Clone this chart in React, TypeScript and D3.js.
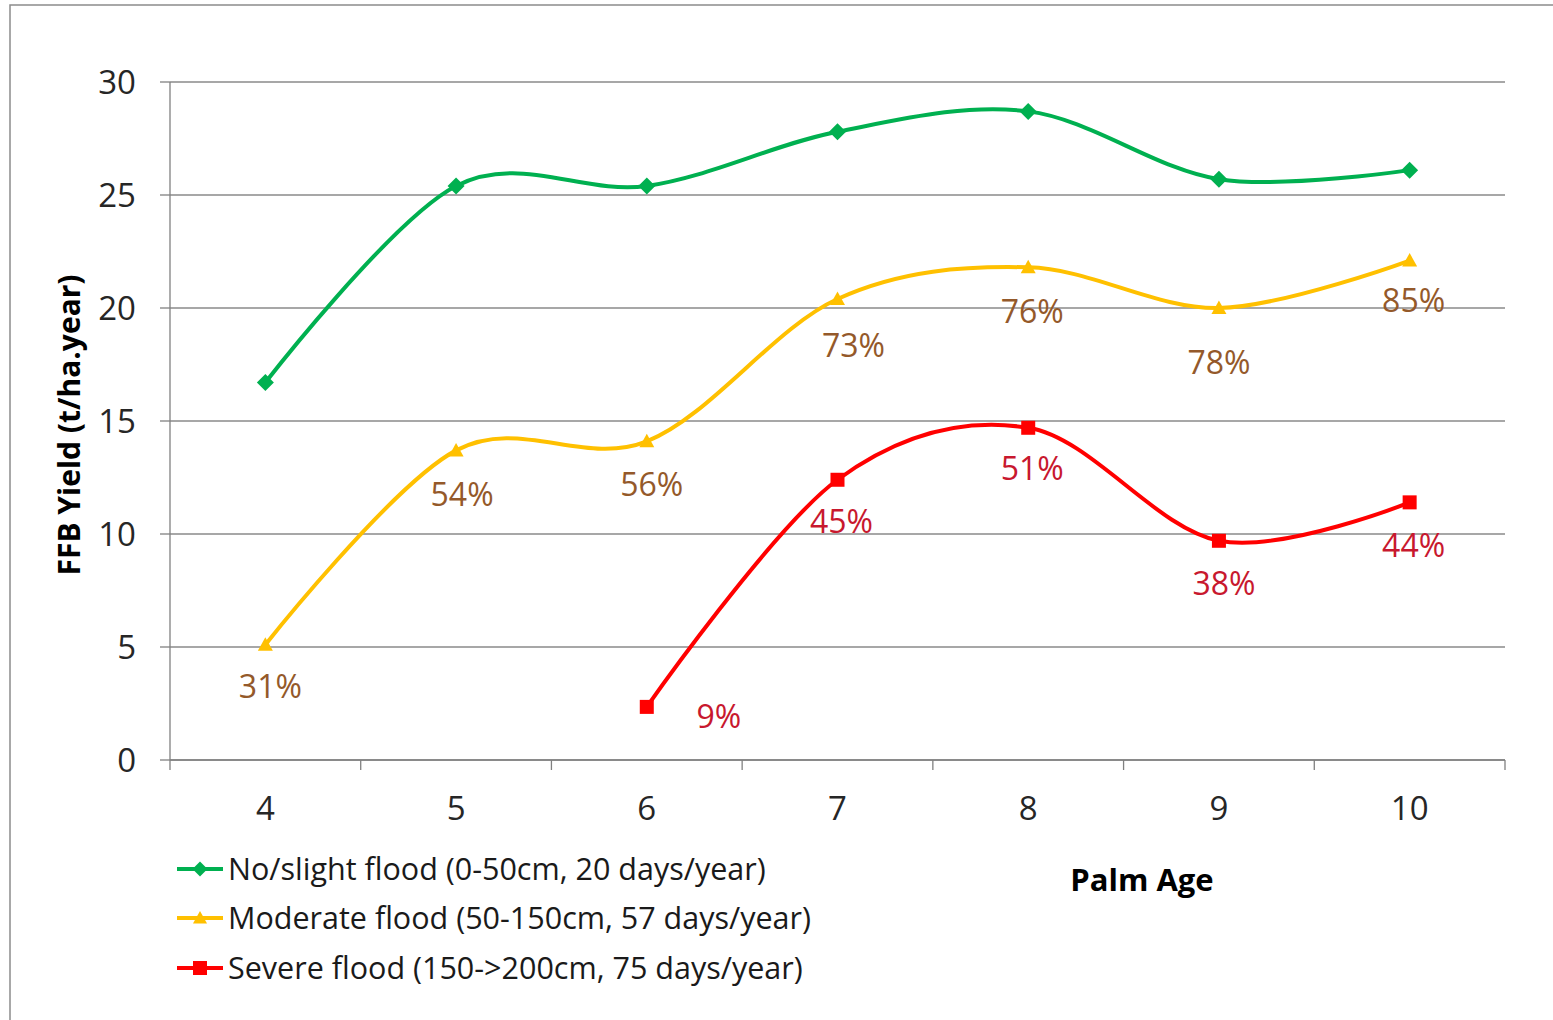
import React from "react";
import * as d3 from "d3";

const ages = ["4", "5", "6", "7", "8", "9", "10"];
const noFlood = [16.7, 25.4, 25.4, 27.8, 28.7, 25.7, 26.1];
const moderate = [5.1, 13.7, 14.1, 20.4, 21.8, 20.0, 22.1];
const severe: (number | null)[] = [null, null, 2.35, 12.4, 14.7, 9.7, 11.4];
const moderatePct = ["31%", "54%", "56%", "73%", "76%", "78%", "85%"];
const severePct = [null, null, "9%", "45%", "51%", "38%", "44%"];
const yTicks = [0, 5, 10, 15, 20, 25, 30];
const seriesNames = [
  "No/slight flood (0-50cm, 20 days/year)",
  "Moderate flood (50-150cm, 57 days/year)",
  "Severe flood (150->200cm, 75 days/year)",
];

// label offsets (layout only)
const modOffsets = [[5, 42], [6, 44], [5, 43], [16, 47], [4, 44], [0, 54], [4, 40]];
const sevOffsets = [[0, 0], [0, 0], [72, 10], [4, 42], [4, 41], [5, 43], [4, 43]];

const W = 1553;
const H = 1020;
const plot = { left: 170, right: 1505, top: 82, bottom: 760 };
const FONT = "'Open Sans', Lato, sans-serif";
const GREEN = "#00B050";
const YELLOW = "#FFC000";
const RED = "#FF0000";
const BROWN = "#94592A";
const DARKRED = "#C8182E";

export default function App() {
  const x = d3.scaleBand<string>().domain(ages).range([plot.left, plot.right]).padding(0);
  const cx = (a: string) => (x(a) as number) + x.bandwidth() / 2;
  const y = d3.scaleLinear().domain([0, 30]).range([plot.bottom, plot.top]);

  const line = d3
    .line<[string, number | null]>()
    .defined((d) => d[1] !== null)
    .x((d) => cx(d[0]))
    .y((d) => y(d[1] as number))
    .curve(d3.curveCatmullRom.alpha(0));

  const zip = (vals: (number | null)[]) => ages.map((a, i) => [a, vals[i]] as [string, number | null]);

  const diamond = (px: number, py: number, s: number) =>
    `M${px},${py - s}L${px + s},${py}L${px},${py + s}L${px - s},${py}Z`;
  const triangle = (px: number, py: number, s: number) =>
    `M${px},${py - s}L${px + s},${py + s * 0.8}L${px - s},${py + s * 0.8}Z`;

  const boundaries = d3.range(ages.length + 1).map((i) => plot.left + i * x.bandwidth());

  const legendY = [869, 918, 968];
  const legendColors = [GREEN, YELLOW, RED];

  return (
    <svg
      width={W}
      height={H}
      style={{ position: "absolute", left: 0, top: 0, background: "#fff" }}
      fontFamily={FONT}
    >
      <rect x={0} y={0} width={W} height={H} fill="#fff" />
      <rect x={10} y={5} width={W + 20} height={H + 20} fill="none" stroke="#8c8c8c" strokeWidth={1.5} />

      {/* gridlines */}
      {yTicks.map((t) => (
        <line key={"g" + t} x1={plot.left} x2={plot.right} y1={y(t)} y2={y(t)} stroke="#8a8a8a" strokeWidth={1.3} />
      ))}
      {/* y axis */}
      <line x1={plot.left} x2={plot.left} y1={plot.top} y2={plot.bottom} stroke="#808080" strokeWidth={1.3} />
      {yTicks.map((t) => (
        <line key={"yt" + t} x1={plot.left - 10} x2={plot.left} y1={y(t)} y2={y(t)} stroke="#808080" strokeWidth={1.3} />
      ))}
      {yTicks.map((t) => (
        <text key={"yl" + t} x={136} y={y(t)} dy="0.36em" textAnchor="end" fontSize={33} fill="#262626">
          {t}
        </text>
      ))}
      {/* x axis */}
      <line x1={plot.left} x2={plot.right} y1={plot.bottom} y2={plot.bottom} stroke="#808080" strokeWidth={1.3} />
      {boundaries.map((b, i) => (
        <line key={"xt" + i} x1={b} x2={b} y1={plot.bottom} y2={plot.bottom + 10} stroke="#808080" strokeWidth={1.3} />
      ))}
      {ages.map((a) => (
        <text key={"xl" + a} x={cx(a)} y={808} dy="0.36em" textAnchor="middle" fontSize={33} fill="#262626">
          {a}
        </text>
      ))}

      {/* axis titles */}
      <text
        transform={`translate(80,425) rotate(-90)`}
        textAnchor="middle"
        fontSize={30}
        fontWeight="bold"
        fill="#000"
      >
        FFB Yield (t/ha.year)
      </text>
      <text x={1142} y={880} dy="0.36em" textAnchor="middle" fontSize={31} fontWeight="bold" fill="#000">
        Palm Age
      </text>

      {/* lines */}
      <path d={line(zip(noFlood)) || ""} fill="none" stroke={GREEN} strokeWidth={4} />
      <path d={line(zip(moderate)) || ""} fill="none" stroke={YELLOW} strokeWidth={4} />
      <path d={line(zip(severe)) || ""} fill="none" stroke={RED} strokeWidth={4} />

      {/* markers */}
      {noFlood.map((v, i) => (
        <path key={"gm" + i} d={diamond(cx(ages[i]), y(v), 8.5)} fill={GREEN} />
      ))}
      {moderate.map((v, i) => (
        <path key={"ym" + i} d={triangle(cx(ages[i]), y(v), 7.5)} fill={YELLOW} />
      ))}
      {severe.map((v, i) =>
        v === null ? null : (
          <rect key={"rm" + i} x={cx(ages[i]) - 7} y={y(v) - 7} width={14} height={14} fill={RED} />
        )
      )}

      {/* data labels */}
      {moderatePct.map((p, i) => (
        <text
          key={"mp" + i}
          x={cx(ages[i]) + modOffsets[i][0]}
          y={y(moderate[i]) + modOffsets[i][1]}
          dy="0.36em"
          textAnchor="middle"
          fontSize={32}
          fill={BROWN}
        >
          {p}
        </text>
      ))}
      {severePct.map((p, i) =>
        p === null ? null : (
          <text
            key={"sp" + i}
            x={cx(ages[i]) + sevOffsets[i][0]}
            y={y(severe[i] as number) + sevOffsets[i][1]}
            dy="0.36em"
            textAnchor="middle"
            fontSize={32}
            fill={DARKRED}
          >
            {p}
          </text>
        )
      )}

      {/* legend */}
      {seriesNames.map((n, i) => {
        const ly = legendY[i];
        const mx = 200;
        return (
          <g key={"lg" + i}>
            <line x1={177} x2={223} y1={ly} y2={ly} stroke={legendColors[i]} strokeWidth={4} />
            {i === 0 && <path d={diamond(mx, ly, 7.5)} fill={GREEN} />}
            {i === 1 && <path d={triangle(mx, ly, 7)} fill={YELLOW} />}
            {i === 2 && <rect x={mx - 7} y={ly - 7} width={14} height={14} fill={RED} />}
            <text x={228} y={ly} dy="0.36em" fontSize={30.5} fill="#1a1a1a">
              {n}
            </text>
          </g>
        );
      })}
    </svg>
  );
}
